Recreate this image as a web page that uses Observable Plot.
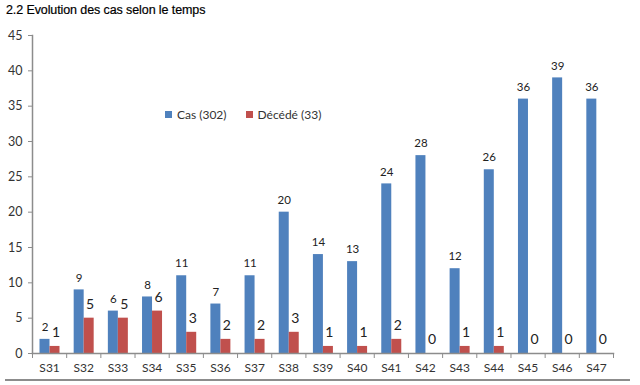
<!DOCTYPE html>
<html><head><meta charset="utf-8">
<script src="https://cdn.jsdelivr.net/npm/d3@7"></script>
<script src="https://cdn.jsdelivr.net/npm/@observablehq/plot@0.6"></script>
<style>
body{margin:0;background:#fff;width:640px;height:385px;position:relative;overflow:hidden;font-family:Lato,"Open Sans",sans-serif;}
#title{position:absolute;left:6px;top:3px;font-family:"Liberation Sans Narrow","Liberation Sans",sans-serif;font-size:12.5px;color:#000;letter-spacing:-0.1px;-webkit-text-stroke:0.2px #000;}
#chart{position:absolute;left:0;top:20px;}
#legend{position:absolute;left:165px;top:107px;font-size:12px;color:#333;display:flex;align-items:center;}
#legend span.sw{display:inline-block;width:7px;height:7px;margin-right:5px;}
#legend .it{display:flex;align-items:center;margin-right:19px;}
#baseline{position:absolute;left:5px;top:379px;width:625px;height:2px;background:#8c8c8c;}
</style></head>
<body>
<div id="title">2.2 Evolution des cas selon le temps</div>
<div id="chart"></div>
<div id="legend"></div>
<div id="baseline"></div>
<script>
const weeks = ["S31","S32","S33","S34","S35","S36","S37","S38","S39","S40","S41","S42","S43","S44","S45","S46","S47"];
const cas = [2,9,6,8,11,7,11,20,14,13,24,28,12,26,36,39,36];
const deces = [1,5,5,6,3,2,2,3,1,1,2,0,1,1,0,0,0];
const seriesNames = ["Cas (302)", "Décédé (33)"];
const colors = ["#4F81BD", "#C0504D"];
const yTicks = [0,5,10,15,20,25,30,35,40,45];

const rows = weeks.map((w,i) => ({week:w, i, cas:cas[i], deces:deces[i]}));
const W = 640, ML = 32, MR = 27;
const band = (W - ML - MR) / weeks.length;
const blueL = 7.5, barW = 10;

const gray = "#8c8c8c";
const plot = Plot.plot({
  width: W, height: 365,
  marginLeft: ML, marginRight: MR, marginTop: 15, marginBottom: 32,
  style: {fontFamily: "Lato, 'Open Sans', sans-serif", fontSize: "12px", color: "#333", background: "transparent"},
  x: {type: "linear", domain: [0, weeks.length], axis: null},
  y: {domain: [0, 45], axis: null},
  marks: [
    Plot.rectY(rows, {x1: d => d.i, x2: d => d.i + 1, y: "cas", fill: colors[0],
      insetLeft: blueL, insetRight: band - blueL - barW}),
    Plot.rectY(rows, {x1: d => d.i, x2: d => d.i + 1, y: "deces", fill: colors[1],
      insetLeft: blueL + barW, insetRight: band - blueL - 2*barW}),
    Plot.text(rows, {x: d => d.i + 0.5, y: "cas", text: d => String(d.cas), dx: blueL + barW/2 - band/2, dy: -12,
      fontSize: 11.5, fill: "#222"}),
    Plot.text(rows, {x: d => d.i + 0.5, y: "deces", text: d => String(d.deces), dx: blueL + 1.5*barW - band/2 + 1, dy: -14,
      fontSize: 14, fill: "#222"}),
    Plot.axisY({ticks: yTicks, tickSize: 4, tickPadding: 6, stroke: gray, fill: "#333", fontSize: 12.5}),
    Plot.axisX({ticks: d3.range(weeks.length + 1), tickSize: 5, stroke: gray, tickFormat: () => ""}),
    Plot.axisX({ticks: weeks.map((w,i) => i + 0.5), tickSize: 0, tickPadding: 10, tickFormat: t => weeks[Math.floor(t)], fill: "#333", fontSize: 12}),
    Plot.frame({anchor: "left", stroke: gray, strokeWidth: 1.5}),
    Plot.frame({anchor: "bottom", stroke: gray, strokeWidth: 1.5})
  ]
});
document.getElementById("chart").appendChild(plot);

const lg = document.getElementById("legend");
seriesNames.forEach((n, k) => {
  const it = document.createElement("div"); it.className = "it";
  const sw = document.createElement("span"); sw.className = "sw"; sw.style.background = colors[k];
  it.appendChild(sw); it.appendChild(document.createTextNode(n)); lg.appendChild(it);
});
</script>
</body></html>
